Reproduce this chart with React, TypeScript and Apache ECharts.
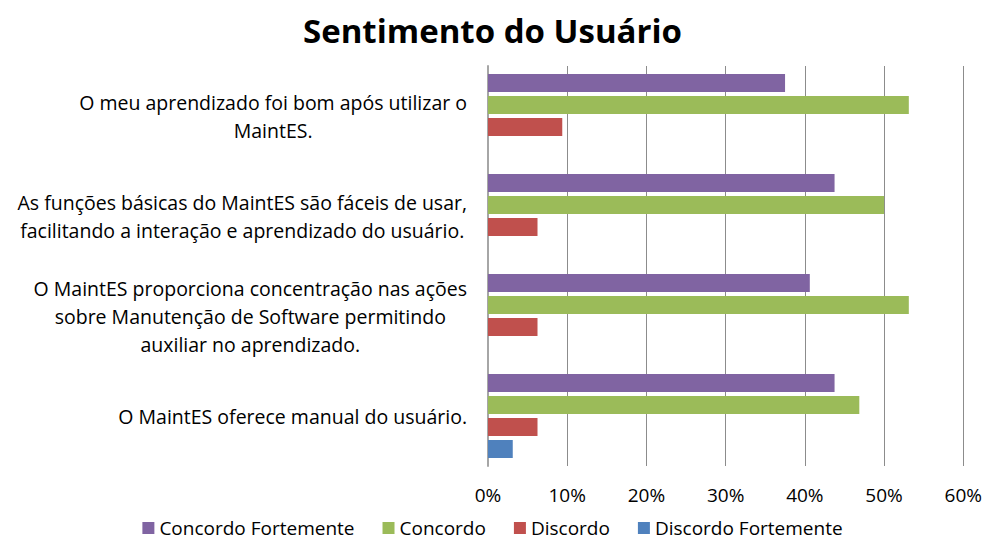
import React, { useEffect, useRef } from "react";
import * as echarts from "echarts";

const categories: string[][] = [
  ["O meu aprendizado foi bom após utilizar o", "MaintES."],
  ["As funções básicas do MaintES são fáceis de usar,", "facilitando a interação e aprendizado do usuário."],
  ["O MaintES proporciona concentração nas ações", "sobre Manutenção de Software permitindo", "auxiliar no aprendizado."],
  ["O MaintES oferece manual do usuário."],
];

const seriesNames = ["Concordo Fortemente", "Concordo", "Discordo", "Discordo Fortemente"];
const concordoFortemente = [37.5, 43.75, 40.625, 43.75];
const concordo = [53.125, 50, 53.125, 46.875];
const discordo = [9.375, 6.25, 6.25, 6.25];
const discordoFortemente = [0, 0, 0, 3.125];
const colors = ["#8064A2", "#9BBB59", "#C0504D", "#4F81BD"];
const xTicks = [0, 10, 20, 30, 40, 50, 60];

const FONT = "'Open Sans', 'Noto Sans', sans-serif";

export default function App() {
  const ref = useRef<HTMLDivElement>(null);
  useEffect(() => {
    if (!ref.current) return;
    const chart = echarts.init(ref.current, undefined, { renderer: "svg" });
    const values = [concordoFortemente, concordo, discordo, discordoFortemente];
    chart.setOption({
      animation: false,
      backgroundColor: "#ffffff",
      title: {
        text: "Sentimento do Usuário",
        left: "center",
        top: 9,
        textStyle: { fontFamily: FONT, fontSize: 33, fontWeight: "bold", color: "#000" },
      },
      legend: {
        data: seriesNames,
        bottom: 0,
        left: "center",
        padding: [0, 5, 1, 5],
        itemWidth: 12,
        itemHeight: 12,
        itemGap: 28,
        icon: "rect",
        textStyle: { fontFamily: FONT, fontSize: 19, color: "#000", lineHeight: 22 },
      },
      grid: { left: 488, right: 21, top: 66, bottom: 74, containLabel: false },
      xAxis: {
        type: "value",
        min: xTicks[0],
        max: xTicks[xTicks.length - 1],
        interval: 10,
        axisLine: { show: false },
        axisTick: { show: false },
        splitLine: { show: true, lineStyle: { color: "#8c8c8c", width: 1 } },
        axisLabel: {
          formatter: (v: number) => `${v}%`,
          fontFamily: FONT,
          fontSize: 19,
          color: "#000",
          margin: 19,
        },
      },
      yAxis: {
        type: "category",
        inverse: true,
        data: categories.map((c) => c.join("\n")),
        axisLine: { show: true, lineStyle: { color: "#a6a6a6", width: 2 } },
        axisTick: { show: false },
        axisLabel: {
          margin: 21,
          align: "right",
          fontFamily: FONT,
          fontSize: 19.5,
          color: "#000",
          lineHeight: 28,
          formatter: (v: string) =>
            v
              .split("\n")
              .map((l) => `{c|${l}}`)
              .join("\n"),
          rich: {
            c: { align: "center", fontFamily: FONT, fontSize: 19.5, color: "#000", lineHeight: 28 },
          },
        },
      },
      series: seriesNames.map((name, i) => ({
        name,
        type: "bar",
        data: values[i],
        barGap: "22%",
        barCategoryGap: "16%",
        itemStyle: { color: colors[i] },
      })),
    });
    return () => chart.dispose();
  }, []);
  return (
    <div
      ref={ref}
      style={{ position: "fixed", left: 0, top: 0, width: 985, height: 540 }}
    />
  );
}
